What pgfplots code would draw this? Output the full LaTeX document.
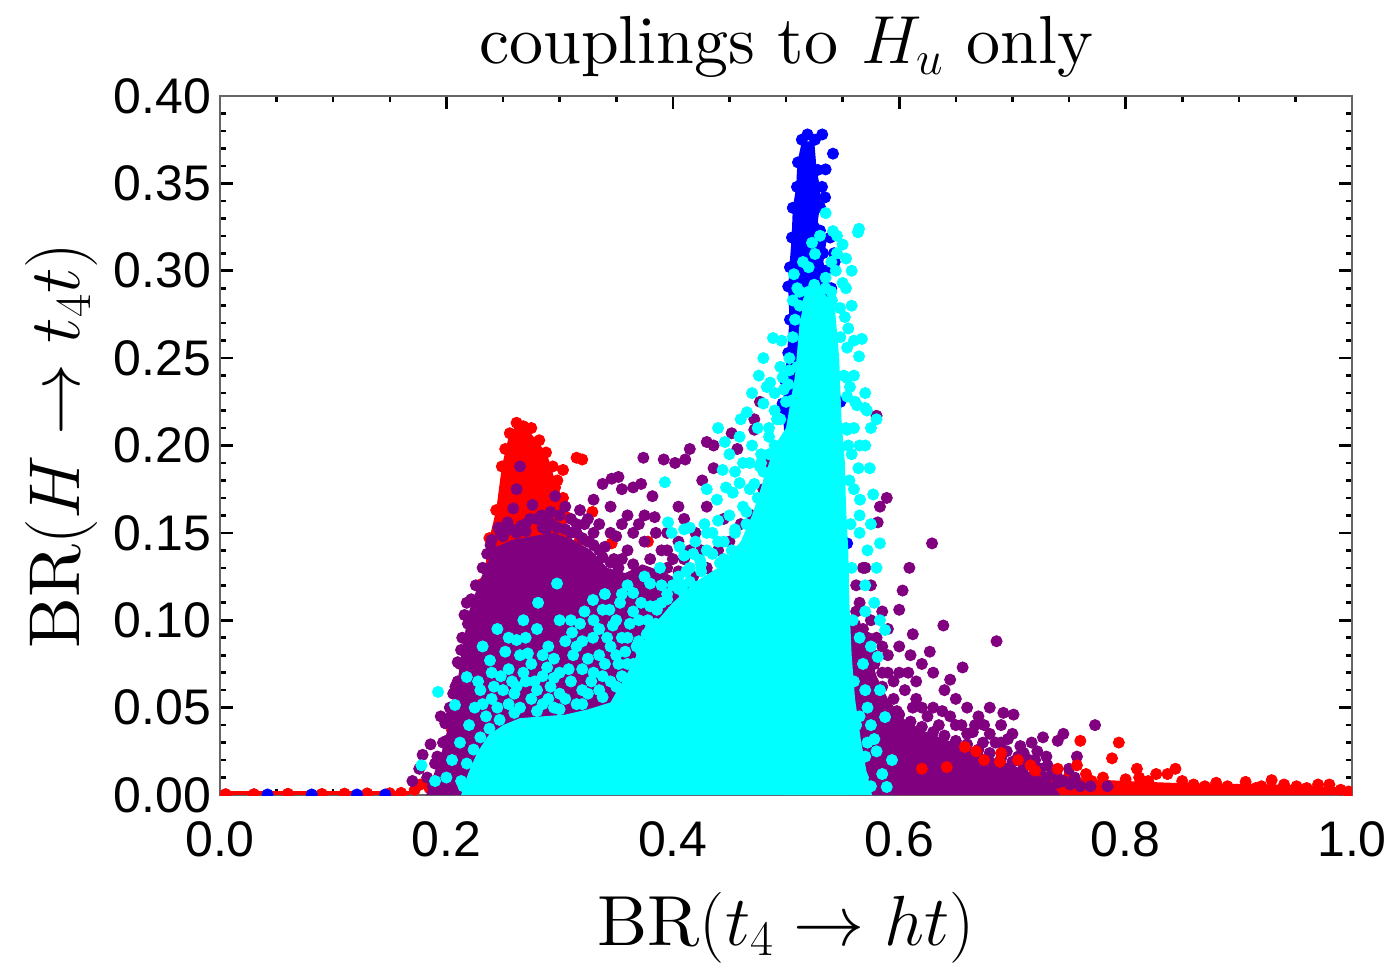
\RequirePackage{fix-cm}
\documentclass[border=0pt]{standalone}
\usepackage{fontspec}
\usepackage{pgfplots}
\pgfplotsset{compat=1.18}
\usetikzlibrary{calc}
\newfontfamily\arial{Liberation Sans}
\newfontfamily\lmten[Extension=.otf,Ligatures=TeX]{lmroman10-regular}
\definecolor{mred}{rgb}{1,0,0}
\definecolor{mblue}{rgb}{0,0,1}
\definecolor{mpurple}{rgb}{0.5,0,0.5}
\definecolor{mcyan}{rgb}{0,1,1}
\definecolor{frame}{gray}{0.4}
\begin{document}
\begin{tikzpicture}
\begin{axis}[name=ax,
  width=566pt, height=349.5pt, scale only axis,
  xmin=0, xmax=1, ymin=0, ymax=0.4,
  xtick={0,0.2,0.4,0.6,0.8,1},
  ytick={0,0.05,0.1,0.15,0.2,0.25,0.3,0.35,0.4},
  minor x tick num=3, minor y tick num=4,
  scaled x ticks=false, scaled y ticks=false,
  tick align=inside, major tick length=6.3pt, minor tick length=3.2pt,
  tick style={black, line width=1.3pt},
  axis line style={draw=frame, line width=1.3pt},
  clip marker paths=true,
  xticklabel style={font=\arial\fontsize{25}{30}\selectfont, yshift=-10pt,
    /pgf/number format/fixed, /pgf/number format/fixed zerofill,
    /pgf/number format/precision=1, /pgf/number format/assume math mode=true},
  yticklabel style={font=\arial\fontsize{25}{30}\selectfont, xshift=-1pt,
    /pgf/number format/fixed, /pgf/number format/fixed zerofill,
    /pgf/number format/precision=2, /pgf/number format/assume math mode=true},
  title={couplings to $H_u$ only},
  title style={at={(axis description cs:0.5,1)}, anchor=base, yshift=10pt, font=\lmten\fontsize{34}{40}\selectfont},
  xlabel={BR$(t_4\to ht)$},
  xlabel style={at={(axis description cs:0.5,0)}, anchor=base, yshift=-75pt, font=\lmten\fontsize{35.5}{42}\selectfont},
  ylabel={BR$(H\to t_4 t)$},
  ylabel style={at={(axis description cs:-0.12367,0.5)}, anchor=base, font=\lmten\fontsize{36}{42}\selectfont},
  dot/.style={only marks, mark=*, mark size=2.8pt, mark options={draw=none}},
]
% ---------------- red ----------------
\addplot[fill=mred, draw=none, mark=none] coordinates {(0,0) (0.168,0) (0.168,0.0022) (0,0.0022)};
\addplot[fill=mred, draw=none, mark=none] coordinates {(0.232,0.121) (0.238,0.147) (0.244,0.163) (0.249,0.188) (0.255,0.205) (0.262,0.212) (0.272,0.209) (0.282,0.201) (0.289,0.195) (0.295,0.182) (0.302,0.170) (0.306,0.158) (0.307,0.144) (0.322,0.130) (0.33,0.10) (0.30,0.06) (0.25,0.05)};
\addplot[fill=mred, draw=none, mark=none] coordinates {(0.60,0) (1.0,0) (1.0,0.004) (0.97,0.005) (0.93,0.006) (0.88,0.0065) (0.84,0.007) (0.80,0.008) (0.77,0.009) (0.74,0.011) (0.71,0.013) (0.68,0.016) (0.65,0.018) (0.62,0.018) (0.60,0.015)};
\addplot[dot, color=mred] coordinates {
(0.232,0.121) (0.238,0.147) (0.244,0.163) (0.249,0.188) (0.252,0.198) (0.256,0.207) (0.262,0.213) (0.268,0.211) (0.275,0.210) (0.282,0.203) (0.288,0.196) (0.294,0.188) (0.303,0.186) (0.298,0.180) (0.296,0.176) (0.303,0.170) (0.306,0.159) (0.307,0.150) (0.307,0.144) (0.315,0.138) (0.324,0.129) (0.315,0.193) (0.320,0.192) (0.329,0.162) (0.346,0.144) (0.378,0.145) (0.318,0.146) (0.310,0.132)
(0.231,0.118) (0.226,0.100) (0.224,0.089) (0.224,0.084) (0.218,0.068) (0.213,0.050) (0.205,0.037) (0.210,0.021) (0.195,0.012) (0.185,0.004) (0.177,0.006) (0.172,0.003)
(0.005,0.0005) (0.030,0.0005) (0.060,0.0007) (0.090,0.0006) (0.110,0.0008) (0.130,0.0009) (0.150,0.0010) (0.160,0.0012)
(0.650,0.010) (0.730,0.010) (0.750,0.011) (0.765,0.012) (0.770,0.008) (0.780,0.010) (0.800,0.009) (0.810,0.015) (0.812,0.010) (0.820,0.008) (0.827,0.012) (0.837,0.012) (0.844,0.015) (0.850,0.008) (0.860,0.006) (0.870,0.005) (0.880,0.007) (0.890,0.005) (0.906,0.0075) (0.915,0.004) (0.920,0.005) (0.929,0.0085) (0.940,0.006) (0.951,0.005) (0.960,0.004) (0.970,0.006) (0.980,0.006) (0.990,0.003) (0.997,0.002) (0.630,0.012) (0.605,0.010)
};
% ---------------- blue ----------------
\addplot[fill=mblue, draw=none, mark=none] coordinates {(0.514,0.374) (0.510,0.362) (0.509,0.348) (0.506,0.336) (0.505,0.319) (0.503,0.302) (0.502,0.290) (0.503,0.272) (0.501,0.253) (0.499,0.237) (0.497,0.222) (0.500,0.190) (0.548,0.190) (0.548,0.225) (0.545,0.260) (0.540,0.290) (0.533,0.305) (0.536,0.318) (0.528,0.328) (0.530,0.337) (0.530,0.348) (0.527,0.358) (0.525,0.374)};
\addplot[dot, color=mblue] coordinates {
(0.519,0.378) (0.532,0.378) (0.5415,0.367) (0.535,0.358) (0.5345,0.342) (0.5424,0.310) (0.543,0.305) (0.530,0.323) (0.514,0.375) (0.5106,0.362) (0.5097,0.348) (0.506,0.336) (0.5053,0.319) (0.5035,0.302) (0.502,0.291) (0.5035,0.272) (0.502,0.253) (0.499,0.2375) (0.497,0.224) (0.5256,0.375) (0.528,0.3577) (0.5318,0.348) (0.530,0.3365) (0.539,0.319) (0.5327,0.310) (0.548,0.225) (0.546,0.157) (0.554,0.144) (0.497,0.2215) (0.505,0.215) (0.520,0.360) (0.525,0.340) (0.535,0.300) (0.540,0.290)
(0.042,0.0003) (0.081,0.0003) (0.121,0.0003) (0.146,0.0003)
};
% ---------------- purple ----------------
\addplot[fill=mpurple, draw=none, mark=none] coordinates {(0.182,0) (0.189,0.012) (0.196,0.025) (0.202,0.040) (0.207,0.055) (0.211,0.070) (0.215,0.088) (0.220,0.105) (0.228,0.120) (0.236,0.133) (0.244,0.142) (0.258,0.146) (0.275,0.148) (0.295,0.150) (0.312,0.146) (0.328,0.140) (0.342,0.130) (0.358,0.127) (0.373,0.132) (0.390,0.128) (0.410,0.122) (0.430,0.118) (0.460,0.115) (0.490,0.120) (0.500,0)};
\addplot[fill=mpurple, draw=none, mark=none] coordinates {(0.555,0) (0.742,0) (0.735,0.007) (0.720,0.012) (0.700,0.017) (0.680,0.022) (0.660,0.027) (0.640,0.032) (0.620,0.037) (0.603,0.044) (0.590,0.055) (0.580,0.068) (0.572,0.085) (0.565,0.100) (0.555,0.100)};
\addplot[dot, color=mpurple] coordinates {
(0.170,0.008) (0.176,0.015) (0.179,0.023) (0.186,0.029) (0.192,0.022) (0.195,0.045) (0.199,0.041) (0.200,0.031) (0.203,0.050) (0.206,0.058) (0.210,0.059) (0.210,0.065) (0.210,0.076) (0.213,0.083) (0.216,0.103) (0.218,0.110) (0.219,0.098) (0.188,0.005)
(0.183,0.010) (0.190,0.018) (0.197,0.030) (0.204,0.045) (0.208,0.062) (0.212,0.075) (0.214,0.090) (0.222,0.112) (0.226,0.120) (0.232,0.130) (0.236,0.138)
(0.239,0.143) (0.242,0.137) (0.248,0.150) (0.258,0.152) (0.259,0.164) (0.265,0.188) (0.270,0.155) (0.280,0.158) (0.290,0.157) (0.296,0.171) (0.300,0.160) (0.310,0.158) (0.318,0.163) (0.322,0.155) (0.330,0.150) (0.330,0.169) (0.338,0.178) (0.340,0.142) (0.345,0.165) (0.346,0.181) (0.350,0.148) (0.352,0.182) (0.355,0.175) (0.360,0.160) (0.365,0.176) (0.370,0.155) (0.372,0.178) (0.374,0.193) (0.375,0.145) (0.382,0.171) (0.384,0.159) (0.390,0.140) (0.392,0.192) (0.395,0.150) (0.400,0.135) (0.402,0.190) (0.405,0.165) (0.410,0.158) (0.411,0.192) (0.415,0.198) (0.420,0.150) (0.426,0.180) (0.430,0.202) (0.430,0.165) (0.436,0.187) (0.436,0.200) (0.445,0.158) (0.450,0.145) (0.452,0.207) (0.457,0.198) (0.460,0.140) (0.470,0.160) (0.472,0.209) (0.472,0.215) (0.477,0.225) (0.480,0.175) (0.485,0.190) (0.440,0.140) (0.430,0.130) (0.410,0.135) (0.360,0.140) (0.355,0.135)
(0.250,0.148) (0.262,0.150) (0.285,0.153) (0.305,0.152) (0.315,0.150) (0.325,0.145) (0.335,0.140) (0.348,0.135) (0.365,0.132) (0.380,0.135) (0.395,0.130) (0.405,0.128) (0.418,0.125) (0.425,0.140) (0.435,0.125) (0.450,0.120) (0.465,0.130) (0.475,0.140) (0.460,0.155)
(0.246,0.153) (0.254,0.156) (0.266,0.154) (0.274,0.158) (0.284,0.160) (0.293,0.155) (0.262,0.175) (0.276,0.166) (0.315,0.155) (0.325,0.158) (0.335,0.155) (0.345,0.150) (0.355,0.155) (0.365,0.150) (0.375,0.160) (0.385,0.150) (0.395,0.140) (0.405,0.145) (0.415,0.140)
(0.240,0.146) (0.252,0.151) (0.270,0.151) (0.288,0.152) (0.298,0.153) (0.310,0.150) (0.320,0.147) (0.330,0.143) (0.338,0.136) (0.345,0.133) (0.352,0.130) (0.292,0.162) (0.305,0.165)
(0.580,0.217) (0.589,0.170) (0.583,0.165) (0.581,0.156) (0.629,0.144) (0.609,0.130) (0.603,0.117) (0.600,0.106) (0.639,0.097) (0.627,0.082) (0.570,0.130) (0.575,0.120) (0.565,0.110) (0.585,0.105) (0.590,0.095) (0.580,0.090) (0.600,0.085) (0.610,0.080) (0.620,0.075) (0.615,0.065) (0.630,0.070) (0.640,0.060) (0.650,0.055) (0.656,0.073) (0.645,0.066) (0.660,0.050) (0.670,0.045) (0.667,0.040) (0.674,0.030) (0.686,0.088) (0.692,0.047) (0.701,0.046) (0.680,0.050) (0.690,0.040) (0.700,0.035) (0.707,0.028) (0.717,0.030) (0.727,0.033) (0.745,0.035) (0.740,0.031) (0.757,0.022) (0.731,0.017) (0.773,0.040) (0.784,0.005) (0.769,0.005) (0.760,0.005) (0.751,0.006) (0.740,0.010) (0.720,0.020) (0.710,0.018) (0.595,0.055) (0.605,0.060) (0.575,0.075) (0.590,0.070) (0.612,0.092) (0.598,0.048) (0.625,0.045) (0.650,0.040) (0.685,0.030) (0.710,0.024) (0.730,0.022) (0.755,0.010)
(0.562,0.120) (0.568,0.130) (0.562,0.105) (0.568,0.095) (0.575,0.100) (0.572,0.090) (0.578,0.080) (0.585,0.085) (0.590,0.080) (0.585,0.070) (0.595,0.065) (0.600,0.070) (0.608,0.070) (0.615,0.055) (0.620,0.050) (0.630,0.050) (0.635,0.040) (0.645,0.045) (0.655,0.040) (0.660,0.035) (0.675,0.040) (0.680,0.035) (0.690,0.030) (0.695,0.025) (0.705,0.022) (0.715,0.020) (0.725,0.015) (0.735,0.012) (0.745,0.008) (0.750,0.015)
(0.600,0.046) (0.610,0.042) (0.620,0.039) (0.630,0.036) (0.640,0.034) (0.650,0.031) (0.660,0.029) (0.670,0.026) (0.680,0.024) (0.690,0.021) (0.700,0.019) (0.710,0.016) (0.720,0.014) (0.730,0.010) (0.740,0.007) (0.585,0.062) (0.578,0.075) (0.570,0.090) (0.612,0.050) (0.638,0.048) (0.665,0.036) (0.696,0.032) (0.722,0.025)
};
% red points of the tail that lie over the purple ones
\addplot[dot, color=mred] coordinates {
(0.642,0.016) (0.658,0.0275) (0.668,0.025) (0.675,0.020) (0.689,0.019) (0.690,0.024) (0.705,0.020) (0.716,0.017) (0.720,0.014) (0.740,0.015) (0.757,0.017) (0.760,0.031) (0.788,0.021) (0.794,0.030) (0.620,0.015)
};
% ---------------- cyan ----------------
\addplot[fill=mcyan, draw=none, mark=none] coordinates {(0.213,0.000) (0.219,0.012) (0.227,0.024) (0.237,0.034) (0.250,0.040) (0.265,0.044) (0.285,0.045) (0.305,0.046) (0.325,0.049) (0.345,0.053) (0.360,0.070) (0.380,0.095) (0.400,0.110) (0.420,0.122) (0.440,0.130) (0.460,0.145) (0.470,0.160) (0.480,0.180) (0.490,0.200) (0.500,0.210) (0.508,0.240) (0.512,0.270) (0.517,0.285) (0.530,0.290) (0.543,0.280) (0.547,0.250) (0.549,0.215) (0.552,0.190) (0.553,0.165) (0.555,0.140) (0.556,0.110) (0.558,0.080) (0.561,0.055) (0.566,0.032) (0.571,0.014) (0.576,0.000)};
\addplot[dot, color=mcyan] coordinates {
(0.1926,0.059) (0.2076,0.0515) (0.218,0.0675) (0.178,0.017) (0.190,0.008) (0.200,0.010) (0.205,0.020) (0.212,0.030) (0.220,0.040) (0.225,0.050) (0.215,0.005) (0.230,0.060) (0.240,0.055) (0.2385,0.077) (0.262,0.0887) (0.272,0.081) (0.2977,0.121) (0.281,0.110) (0.280,0.095) (0.289,0.073) (0.295,0.067) (0.312,0.080) (0.318,0.098) (0.311,0.093) (0.3295,0.090) (0.3295,0.1116) (0.338,0.106) (0.344,0.106) (0.347,0.097) (0.3534,0.110) (0.365,0.1156) (0.393,0.179) (0.3958,0.156) (0.399,0.150) (0.410,0.152)
(0.250,0.060) (0.260,0.058) (0.270,0.065) (0.280,0.060) (0.290,0.055) (0.300,0.058) (0.310,0.065) (0.320,0.060) (0.330,0.070) (0.340,0.075) (0.350,0.080) (0.360,0.090) (0.370,0.100) (0.380,0.095) (0.390,0.110) (0.400,0.120)
(0.235,0.045) (0.245,0.050) (0.255,0.052) (0.265,0.050) (0.275,0.055) (0.285,0.052) (0.295,0.050) (0.305,0.055) (0.315,0.052) (0.325,0.058) (0.335,0.060) (0.345,0.065) (0.355,0.068) (0.365,0.075) (0.372,0.082)
(0.248,0.068) (0.258,0.065) (0.268,0.070) (0.285,0.068) (0.300,0.070) (0.320,0.072) (0.335,0.080) (0.345,0.085) (0.355,0.090) (0.362,0.098) (0.370,0.088) (0.377,0.092) (0.385,0.098)
(0.252,0.082) (0.245,0.095) (0.268,0.100) (0.290,0.085) (0.305,0.088) (0.300,0.100) (0.322,0.105) (0.335,0.095) (0.340,0.115) (0.360,0.120) (0.372,0.110) (0.375,0.125) (0.390,0.120) (0.395,0.100) (0.400,0.105) (0.410,0.115)
(0.232,0.052) (0.242,0.062) (0.255,0.072) (0.262,0.062) (0.275,0.075) (0.278,0.065) (0.292,0.062) (0.295,0.078) (0.308,0.072) (0.315,0.085) (0.325,0.078) (0.328,0.065) (0.338,0.068) (0.342,0.090) (0.352,0.075) (0.358,0.082) (0.365,0.105) (0.380,0.108) (0.388,0.088) (0.395,0.115) (0.405,0.125) (0.412,0.128) (0.418,0.138) (0.425,0.128) (0.430,0.150) (0.440,0.145) (0.445,0.135) (0.452,0.140) (0.465,0.155) (0.475,0.170) (0.480,0.185) (0.485,0.195) (0.495,0.215) (0.500,0.225) (0.502,0.235) (0.265,0.080) (0.270,0.090) (0.285,0.080) (0.255,0.090) (0.228,0.065) (0.232,0.085) (0.240,0.070) (0.310,0.100) (0.320,0.088) (0.330,0.100) (0.350,0.100) (0.355,0.115)
(0.415,0.130) (0.420,0.145) (0.428,0.155) (0.435,0.150) (0.450,0.160) (0.455,0.150) (0.462,0.165) (0.468,0.175) (0.455,0.185) (0.470,0.200) (0.478,0.195) (0.485,0.210) (0.490,0.220) (0.490,0.230) (0.495,0.245) (0.460,0.215) (0.450,0.195) (0.440,0.210) (0.470,0.230) (0.476,0.240) (0.480,0.250)
(0.415,0.153) (0.439,0.169) (0.440,0.157) (0.444,0.186) (0.446,0.202) (0.459,0.205) (0.462,0.190) (0.468,0.190) (0.477,0.188) (0.4655,0.219) (0.480,0.224) (0.475,0.210) (0.459,0.1785) (0.453,0.173) (0.447,0.176) (0.430,0.175) (0.424,0.1345) (0.430,0.140) (0.4417,0.1328) (0.406,0.142) (0.410,0.137) (0.3887,0.130) (0.380,0.121) (0.409,0.120) (0.386,0.106) (0.420,0.110) (0.450,0.125) (0.460,0.140) (0.470,0.150) (0.480,0.165) (0.485,0.180) (0.490,0.200)
(0.483,0.2335) (0.506,0.226) (0.554,0.228) (0.5627,0.223) (0.5715,0.220) (0.554,0.209) (0.5477,0.199) (0.5698,0.2215) (0.561,0.225) (0.5565,0.2335) (0.554,0.2386) (0.497,0.239) (0.486,0.236) (0.4885,0.2615) (0.496,0.260)
(0.535,0.333) (0.5415,0.3227) (0.5645,0.324) (0.523,0.316) (0.5256,0.3096) (0.520,0.302) (0.507,0.298) (0.553,0.307) (0.550,0.293) (0.544,0.300) (0.535,0.296) (0.535,0.290) (0.5256,0.2907) (0.520,0.288) (0.506,0.283) (0.512,0.280) (0.520,0.283) (0.5406,0.283) (0.5477,0.2787) (0.552,0.2735) (0.555,0.267) (0.567,0.261) (0.5645,0.251) (0.554,0.256) (0.548,0.262) (0.503,0.250) (0.510,0.245)
(0.555,0.200) (0.560,0.210) (0.565,0.200) (0.560,0.240) (0.570,0.230) (0.575,0.210) (0.560,0.260) (0.558,0.280) (0.553,0.290) (0.558,0.300) (0.545,0.320) (0.550,0.315) (0.565,0.160) (0.572,0.140) (0.575,0.155) (0.570,0.105) (0.578,0.110) (0.568,0.075) (0.575,0.085) (0.565,0.045) (0.572,0.050) (0.578,0.032) (0.583,0.060)
(0.564,0.187) (0.574,0.187) (0.583,0.144) (0.580,0.130) (0.5654,0.169) (0.577,0.172) (0.5875,0.0944) (0.583,0.100) (0.581,0.079) (0.5875,0.0446) (0.5936,0.020) (0.589,0.0046) (0.580,0.215) (0.570,0.200) (0.565,0.150) (0.570,0.120) (0.565,0.090) (0.570,0.060) (0.575,0.040) (0.580,0.025) (0.585,0.012) (0.560,0.175) (0.558,0.195) (0.5636,0.322) (0.530,0.320) (0.515,0.305) (0.510,0.290) (0.545,0.310) (0.540,0.305)
(0.213,0.008) (0.218,0.018) (0.224,0.026) (0.230,0.033) (0.238,0.038) (0.247,0.043) (0.260,0.047) (0.280,0.048) (0.300,0.049) (0.320,0.052) (0.338,0.056)
(0.350,0.062) (0.360,0.075) (0.368,0.085) (0.378,0.100) (0.385,0.108) (0.395,0.112) (0.405,0.118) (0.415,0.122) (0.425,0.132) (0.435,0.138) (0.445,0.145) (0.455,0.152) (0.465,0.162) (0.472,0.178) (0.478,0.190) (0.485,0.205) (0.492,0.215) (0.498,0.232) (0.503,0.243) (0.506,0.262) (0.508,0.272) (0.512,0.288) (0.525,0.292) (0.540,0.288)
(0.558,0.020) (0.562,0.040) (0.560,0.065) (0.559,0.100) (0.558,0.130) (0.557,0.155) (0.556,0.180) (0.553,0.210) (0.551,0.240) (0.572,0.030) (0.568,0.010) (0.575,0.005) (0.570,0.022)
};
\end{axis}
\pgfresetboundingbox
\path[use as bounding box] ($(ax.south west)+(-110pt,-90pt)$) rectangle ($(ax.north east)+(18.5pt,48pt)$);
\end{tikzpicture}
\end{document}
